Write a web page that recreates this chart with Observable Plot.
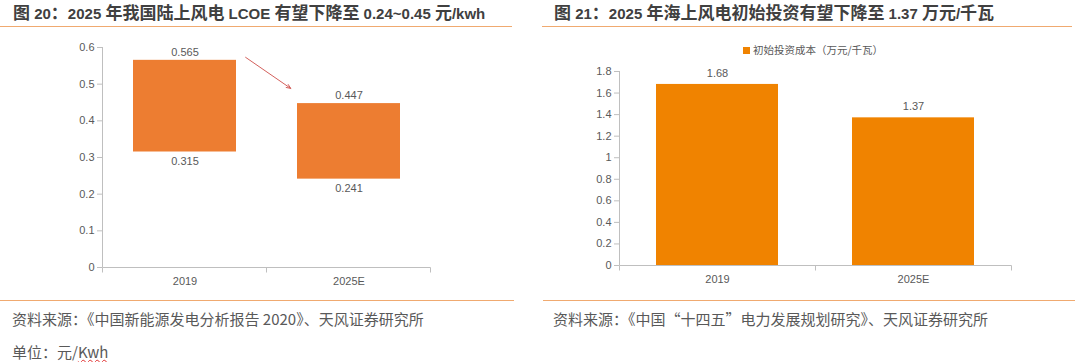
<!DOCTYPE html>
<html>
<head>
<meta charset="utf-8">
<script src="https://cdn.jsdelivr.net/npm/d3@7"></script>
<script src="https://cdn.jsdelivr.net/npm/@observablehq/plot@0.6"></script>
<style>
  html, body { margin: 0; padding: 0; background: #fff; }
  #root { position: relative; width: 1080px; height: 362px; overflow: hidden; background: #fff;
          font-family: "Liberation Sans", "Noto Sans CJK SC", sans-serif; }
  .title { position: absolute; top: 1px; height: 22px; line-height: 22px; font-size: 17px; font-weight: bold;
           color: #404040; white-space: nowrap; font-family: "Noto Sans CJK SC", sans-serif; }
  .title .lat { font-family: "Liberation Sans", sans-serif; font-size: 15px; }
  .rule { position: absolute; height: 1px; background: #F0AA70; }
  .foot { position: absolute; height: 20px; line-height: 20px; font-size: 15px; color: #595959; white-space: nowrap;
          font-family: "Noto Sans CJK SC", sans-serif; }
  .wavy { text-decoration: underline wavy #E03030; text-decoration-thickness: 1px; text-underline-offset: 1px; }
  .chart { position: absolute; top: 30px; }
  .legend { position: absolute; top: 42px; left: 743px; height: 16px; line-height: 16px; font-size: 10.5px; color: #595959;
            font-family: "Noto Sans CJK SC", sans-serif; white-space: nowrap; }
  .legend i { display: inline-block; width: 7px; height: 7px; background: #F08300; margin-right: 3px; vertical-align: 0px; }
</style>
</head>
<body>
<div id="root">
  <div class="title" style="left:13px">图 20：2025 年我国陆上风电 LCOE 有望下降至 0.24~0.45 元/kwh</div>
  <div class="title" style="left:554px">图 21：2025 年海上风电初始投资有望下降至 1.37 万元/千瓦</div>
  <div class="rule" style="left:0px; width:512px; top:26px"></div>
  <div class="rule" style="left:542px; width:530px; top:26px"></div>
  <div class="rule" style="left:0px; width:514px; top:300px"></div>
  <div class="rule" style="left:543px; width:532px; top:300px"></div>
  <div id="left" class="chart" style="left:0px"></div>
  <div id="right" class="chart" style="left:540px"></div>
  <div class="legend"><i></i>初始投资成本（万元/千瓦）</div>
  <div class="foot" style="left:12px; top:309px">资料来源：《中国新能源发电分析报告 2020》、天风证券研究所</div>
  <div class="foot" style="left:12px; top:342px">单位：元/<span class="wavy">Kwh</span></div>
  <div class="foot" style="left:553px; top:309px">资料来源：《中国“十四五”电力发展规划研究》、天风证券研究所</div>
</div>
<script>
// ---- data ----
const categories = ["2019", "2025E"];
const lcoeHigh = [0.565, 0.447];
const lcoeLow = [0.315, 0.241];
const investCost = [1.68, 1.37];
const yTicksLeft = [0, 0.1, 0.2, 0.3, 0.4, 0.5, 0.6];
const yTicksRight = [0, 0.2, 0.4, 0.6, 0.8, 1, 1.2, 1.4, 1.6, 1.8];
const arrowAnnotation = [{from: "2019", to: "2025E", y1: 0.687, y2: 0.379}];

const leftData = categories.map((c, i) => ({cat: c, low: lcoeLow[i], high: lcoeHigh[i]}));
const rightData = categories.map((c, i) => ({cat: c, value: investCost[i]}));

// Latin runs in titles get a narrower face
document.querySelectorAll(".title").forEach(el => {
  const t = el.textContent;
  el.textContent = "";
  t.split(/([\x20-\x7E]+)/).forEach(part => {
    if (!part) return;
    if (/^[\x20-\x7E]+$/.test(part)) {
      const s = document.createElement("span");
      s.className = "lat";
      s.textContent = part;
      el.appendChild(s);
    } else {
      el.appendChild(document.createTextNode(part));
    }
  });
});

const axisColor = "#BFBFBF";
const textColor = "#595959";

// axis lines + category boundary ticks (Excel style)
function axisFrame(n) {
  return (index, scales, values, dims) => {
    const {width, height, marginLeft, marginRight, marginTop, marginBottom} = dims;
    const x0 = marginLeft + 0.5, x1 = width - marginRight + 0.5, yb = height - marginBottom + 0.5;
    const g = d3.create("svg:g").attr("stroke", axisColor).attr("fill", "none").attr("stroke-width", 1);
    g.append("line").attr("x1", x0).attr("x2", x0).attr("y1", marginTop).attr("y2", yb);
    g.append("line").attr("x1", x0).attr("x2", x1).attr("y1", yb).attr("y2", yb);
    for (let i = 0; i <= n; i++) {
      const xx = Math.round(marginLeft + i * (width - marginLeft - marginRight) / n) + 0.5;
      g.append("line").attr("x1", xx).attr("x2", xx).attr("y1", yb).attr("y2", yb + 5);
    }
    return g.node();
  };
}

const common = {
  style: {fontSize: "11px", fontFamily: "'Liberation Sans', Arial, sans-serif", color: textColor, background: "transparent", overflow: "visible"},
};

const left = Plot.plot({
  ...common,
  width: 540, height: 270,
  marginLeft: 102, marginRight: 110, marginTop: 17, marginBottom: 33,
  x: {domain: categories, paddingInner: 0.375, paddingOuter: 0.1875},
  y: {domain: [0, 0.6]},
  marks: [
    Plot.barY(leftData, {x: "cat", y1: "low", y2: "high", fill: "#ED7D31"}),
    Plot.text(leftData, {x: "cat", y: "high", text: d => String(d.high), dy: -8, fill: textColor}),
    Plot.text(leftData, {x: "cat", y: "low", text: d => String(d.low), dy: 9, fill: textColor}),
    Plot.arrow(arrowAnnotation, {x1: "from", x2: "to", y1: "y1", y2: "y2", stroke: "#D3605C", strokeWidth: 1,
      headLength: 7, headAngle: 45, insetStart: 73.6, insetEnd: 70.7}),
    Plot.axisY({ticks: yTicksLeft, tickFormat: d => String(d), tickSize: 5, tickPadding: 3, stroke: axisColor, fill: textColor, label: null}),
    Plot.axisX({tickSize: 0, tickPadding: 10, fill: textColor, label: null}),
    axisFrame(categories.length)
  ]
});
document.getElementById("left").appendChild(left);

const right = Plot.plot({
  ...common,
  width: 540, height: 270,
  marginLeft: 79, marginRight: 69, marginTop: 41, marginBottom: 35,
  x: {domain: categories, paddingInner: 0.38, paddingOuter: 0.19},
  y: {domain: [0, 1.8]},
  marks: [
    Plot.barY(rightData, {x: "cat", y: "value", fill: "#F08300"}),
    Plot.text(rightData, {x: "cat", y: "value", text: d => String(d.value), dy: -11, fill: textColor}),
    Plot.axisY({ticks: yTicksRight, tickFormat: d => String(d), tickSize: 5, tickPadding: 3, stroke: axisColor, fill: textColor, label: null}),
    Plot.axisX({tickSize: 0, tickPadding: 10, fill: textColor, label: null}),
    axisFrame(categories.length)
  ]
});
document.getElementById("right").appendChild(right);
</script>
</body>
</html>
